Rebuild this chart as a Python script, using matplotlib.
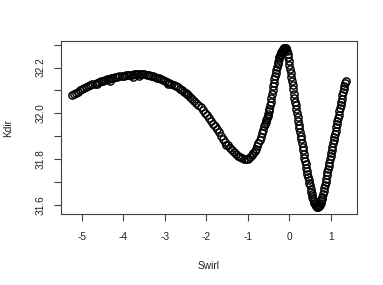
import matplotlib
matplotlib.use("Agg")
import matplotlib.pyplot as plt
import numpy as np

plt.rcParams['font.family'] = ['Liberation Sans', 'DejaVu Sans']

# --- gentle arc and first dip ---
swirl_arc = [-5.24, -5.19, -5.14, -5.09, -5.04, -4.99, -4.94, -4.89, -4.84, -4.79,
             -4.74, -4.69, -4.64, -4.59, -4.54, -4.49, -4.44, -4.39, -4.34, -4.29,
             -4.24, -4.19, -4.14, -4.09, -4.04, -3.99, -3.94, -3.89, -3.84, -3.79,
             -3.74, -3.69, -3.64, -3.59, -3.54, -3.49, -3.44, -3.39, -3.34, -3.29,
             -3.24, -3.19, -3.14, -3.09, -3.04, -2.99, -2.94, -2.89, -2.84, -2.79,
             -2.74, -2.69, -2.64, -2.59, -2.54, -2.49, -2.44, -2.39, -2.34, -2.29,
             -2.24, -2.19, -2.14, -2.09, -2.04, -1.99, -1.94, -1.89, -1.84, -1.79,
             -1.74, -1.69, -1.64, -1.59, -1.54, -1.49, -1.44, -1.39, -1.34, -1.29,
             -1.24, -1.19, -1.14, -1.09, -1.05,
             -4.31, -3.76, -3.62, -4.62, -2.92, -1.52, -2.47]
kdir_arc = [32.080, 32.085, 32.090, 32.095, 32.100, 32.105, 32.109, 32.114, 32.118, 32.122,
            32.126, 32.130, 32.133, 32.137, 32.140, 32.143, 32.146, 32.149, 32.151, 32.154,
            32.156, 32.158, 32.160, 32.162, 32.163, 32.165, 32.166, 32.167, 32.168, 32.169,
            32.170, 32.170, 32.171, 32.171, 32.171, 32.170, 32.169, 32.167, 32.165, 32.163,
            32.160, 32.156, 32.152, 32.148, 32.144, 32.140, 32.136, 32.132, 32.127, 32.123,
            32.118, 32.113, 32.107, 32.101, 32.095, 32.088, 32.081, 32.073, 32.064, 32.055,
            32.046, 32.037, 32.027, 32.015, 32.003, 31.991, 31.979, 31.967, 31.955, 31.943,
            31.930, 31.916, 31.901, 31.887, 31.873, 31.860, 31.849, 31.839, 31.830, 31.822,
            31.815, 31.809, 31.804, 31.801, 31.800,
            32.141, 32.160, 32.161, 32.127, 32.128, 31.862, 32.085]

# --- oscillation ---
swirl_wave = [-1.00, -0.95, -0.90, -0.87, -0.84, -0.81, -0.78, -0.75, -0.72, -0.69,
              -0.66, -0.63, -0.60, -0.585, -0.57, -0.555, -0.54, -0.525, -0.51, -0.495,
              -0.48, -0.465, -0.45, -0.435, -0.42, -0.405, -0.39, -0.375, -0.36, -0.345,
              -0.33, -0.315, -0.30, -0.285, -0.27, -0.255, -0.24, -0.225, -0.21, -0.195,
              -0.18, -0.165, -0.15, -0.135, -0.12, -0.105, -0.09, -0.075, -0.06, -0.045,
              -0.03, -0.015, 0.0, 0.015, 0.03, 0.045, 0.06, 0.075, 0.09, 0.105,
              0.12, 0.135, 0.15, 0.165, 0.18, 0.195, 0.21, 0.225, 0.24, 0.255,
              0.27, 0.285, 0.30, 0.315, 0.33, 0.345, 0.36, 0.375, 0.39, 0.405,
              0.42, 0.435, 0.45, 0.465, 0.48, 0.495, 0.51, 0.525, 0.54, 0.555,
              0.57, 0.585, 0.60, 0.615, 0.63, 0.645, 0.66, 0.675, 0.69, 0.705,
              0.72, 0.735, 0.75, 0.765, 0.78, 0.795, 0.81, 0.825, 0.84, 0.855,
              0.87, 0.885, 0.90, 0.915, 0.93, 0.945, 0.96, 0.975, 0.99, 1.005,
              1.02, 1.035, 1.05, 1.065, 1.08, 1.095, 1.11, 1.125, 1.14, 1.155,
              1.17, 1.185, 1.20, 1.215, 1.23, 1.245, 1.26, 1.275, 1.29, 1.305,
              1.32, 1.335, 1.35]
kdir_wave = [31.801, 31.808, 31.817, 31.824, 31.833, 31.843, 31.855, 31.868, 31.882, 31.897,
             31.912, 31.928, 31.945, 31.953, 31.961, 31.969, 31.978, 31.987, 31.997, 32.008,
             32.020, 32.034, 32.050, 32.066, 32.083, 32.100, 32.117, 32.133, 32.149, 32.164,
             32.178, 32.191, 32.203, 32.215, 32.226, 32.236, 32.245, 32.253, 32.260, 32.266,
             32.272, 32.277, 32.281, 32.284, 32.286, 32.287, 32.285, 32.280, 32.272, 32.261,
             32.247, 32.230, 32.212, 32.194, 32.176, 32.158, 32.140, 32.122, 32.104, 32.086,
             32.068, 32.051, 32.034, 32.017, 32.000, 31.983, 31.966, 31.950, 31.934, 31.918,
             31.902, 31.886, 31.870, 31.854, 31.838, 31.822, 31.806, 31.791, 31.776, 31.762,
             31.748, 31.734, 31.721, 31.708, 31.696, 31.684, 31.670, 31.657, 31.645, 31.634,
             31.624, 31.615, 31.607, 31.601, 31.596, 31.592, 31.590, 31.589, 31.590, 31.592,
             31.595, 31.600, 31.607, 31.615, 31.624, 31.634, 31.646, 31.659, 31.672, 31.686,
             31.700, 31.714, 31.728, 31.742, 31.756, 31.770, 31.784, 31.798, 31.812, 31.826,
             31.840, 31.854, 31.868, 31.882, 31.896, 31.910, 31.924, 31.938, 31.952, 31.966,
             31.980, 31.994, 32.008, 32.022, 32.036, 32.050, 32.064, 32.078, 32.092, 32.106,
             32.119, 32.131, 32.142]

x_ticks = [-5, -4, -3, -2, -1, 0, 1]
y_ticks = [31.6, 31.7, 31.8, 31.9, 32.0, 32.1, 32.2, 32.3]
y_labels = ['31.6', '', '31.8', '', '32.0', '', '32.2', '']

swirl = swirl_arc + swirl_wave
kdir = kdir_arc + kdir_wave

fig = plt.figure(figsize=(3.83, 2.85), dpi=100)
ax = fig.add_axes([0.1585, 0.2491, 0.7728, 0.607])
ax.plot(swirl, kdir, linestyle='none', marker='o', markersize=5.2,
        markerfacecolor='none', markeredgecolor='black', markeredgewidth=1.05)

ax.set_xlim(-5.505, 1.619)
ax.set_ylim(31.559, 32.316)
ax.set_xticks(x_ticks)
ax.set_xticklabels([str(t) for t in x_ticks])
ax.set_yticks(y_ticks)
ax.set_yticklabels(y_labels, rotation=90, va='center')

for s in ax.spines.values():
    s.set_color('#404040')
    s.set_linewidth(0.8)

ax.tick_params(axis='both', direction='out', length=4.8, width=0.8, color='#404040',
               labelsize=7.3, labelcolor='#222222')
ax.tick_params(axis='x', pad=8)
ax.tick_params(axis='y', pad=6)

ax.set_xlabel('Swirl', fontsize=7.3, color='#222222', labelpad=14)
ax.set_ylabel('Kdir', fontsize=7.3, color='#222222', labelpad=16)

fig.savefig('out.png', dpi=100)
